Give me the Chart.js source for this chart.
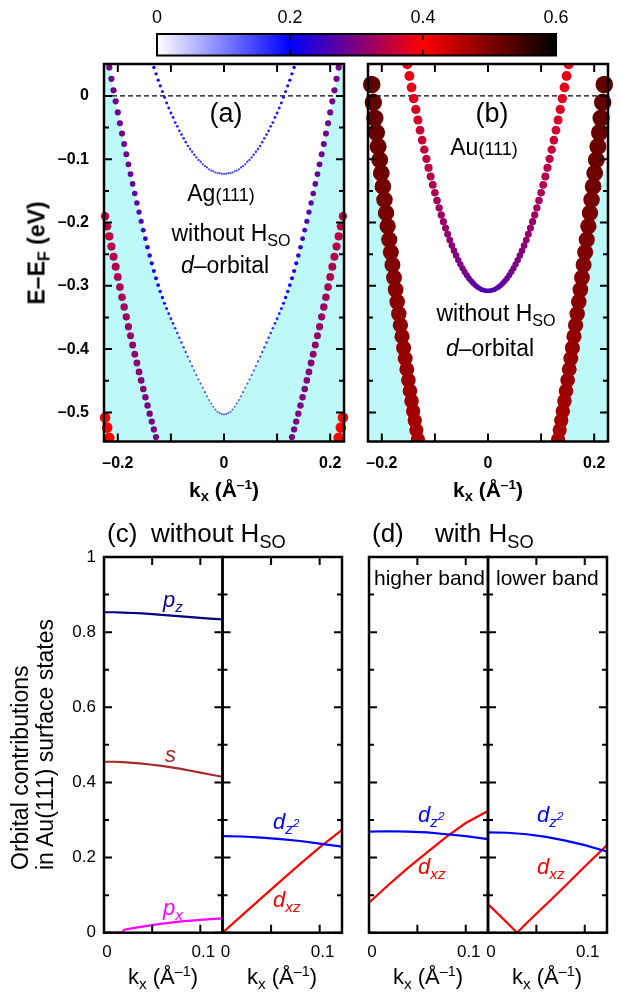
<!DOCTYPE html>
<html><head><meta charset="utf-8">
<script src="https://cdn.jsdelivr.net/npm/chart.js@4/dist/chart.umd.min.js"></script>
<style>
html,body{margin:0;padding:0;background:#fff;}
#wrap{position:relative;width:620px;height:994px;overflow:hidden;font-family:'Liberation Sans',Arial,sans-serif;color:#000;}
canvas{position:absolute;left:0;top:0;}
.t{position:absolute;white-space:nowrap;line-height:1;transform:translate(-50%,-50%);}
.l{position:absolute;white-space:nowrap;line-height:1;transform:translate(0,-50%);}
.r{transform:translate(-50%,-50%) rotate(-90deg);}
.sb{font-size:0.7em;vertical-align:-0.32em;line-height:0;}
.sp{font-size:0.65em;vertical-align:0.55em;line-height:0;}
.sp2{font-size:0.75em;vertical-align:0.6em;line-height:0;}
.b{font-weight:bold;}
i{font-style:italic;}
</style></head><body><div id="wrap">
<canvas id="cb" width="620" height="994"></canvas>
<canvas id="pa" width="620" height="994"></canvas>
<canvas id="pb" width="620" height="994"></canvas>
<canvas id="c1" width="620" height="994"></canvas>
<canvas id="c2" width="620" height="994"></canvas>
<canvas id="d1" width="620" height="994"></canvas>
<canvas id="d2" width="620" height="994"></canvas>

<div class="t" style="left:226px;top:113px;font-size:27px">(a)</div>
<div class="t" style="left:221px;top:193px;font-size:23px">Ag<span style="font-size:18px">(111)</span></div>
<div class="t" style="left:231px;top:233px;font-size:23px">without H<span class="sb">SO</span></div>
<div class="t" style="left:225px;top:265px;font-size:23px"><i>d</i>–orbital</div>

<div class="t" style="left:492px;top:113px;font-size:27px">(b)</div>
<div class="t" style="left:484px;top:147px;font-size:23px">Au<span style="font-size:18px">(111)</span></div>
<div class="t" style="left:496px;top:313px;font-size:23px">without H<span class="sb">SO</span></div>
<div class="t" style="left:490px;top:348px;font-size:23px"><i>d</i>–orbital</div>

<div class="t r b" style="left:37px;top:253px;font-size:23px">E–E<span class="sb">F</span> (eV)</div>
<div class="t b" style="left:224px;top:489px;font-size:21px">k<span class="sb">x</span> (Å<span class="sp">–1</span>)</div>
<div class="t b" style="left:488px;top:489px;font-size:21px">k<span class="sb">x</span> (Å<span class="sp">–1</span>)</div>

<div class="l" style="left:107px;top:533px;font-size:26px">(c)</div>
<div class="l" style="left:151px;top:533px;font-size:26px">without H<span class="sb">SO</span></div>
<div class="l" style="left:372px;top:533px;font-size:26px">(d)</div>
<div class="l" style="left:435px;top:533px;font-size:26px">with H<span class="sb">SO</span></div>
<div class="l" style="left:374px;top:577px;font-size:21px">higher band</div>
<div class="l" style="left:496px;top:577px;font-size:21px">lower band</div>

<div class="l" style="left:163px;top:600px;font-size:22px;color:#000080"><i>p<span class="sb">z</span></i></div>
<div class="l" style="left:165px;top:755px;font-size:22px;color:#a52a2a"><i>s</i></div>
<div class="l" style="left:163px;top:908px;font-size:22px;color:#ff00ff"><i>p<span class="sb">x</span></i></div>
<div class="l" style="left:273px;top:822px;font-size:22px;color:#0000ff"><i>d<span class="sb">z<span class="sp2">2</span></span></i></div>
<div class="l" style="left:273px;top:900px;font-size:22px;color:#ff0000"><i>d<span class="sb">xz</span></i></div>
<div class="l" style="left:418px;top:815px;font-size:22px;color:#0000ff"><i>d<span class="sb">z<span class="sp2">2</span></span></i></div>
<div class="l" style="left:418px;top:867px;font-size:22px;color:#ff0000"><i>d<span class="sb">xz</span></i></div>
<div class="l" style="left:537px;top:815px;font-size:22px;color:#0000ff"><i>d<span class="sb">z<span class="sp2">2</span></span></i></div>
<div class="l" style="left:537px;top:867px;font-size:22px;color:#ff0000"><i>d<span class="sb">xz</span></i></div>

<div style="position:absolute;left:7.5px;top:870px;transform:rotate(-90deg);transform-origin:0 0;font-size:23px;line-height:25px;white-space:nowrap">Orbital contributions<br>in Au(111) surface states</div>
<div class="t" style="left:163px;top:977px;font-size:22px">k<span class="sb">x</span> (Å<span class="sp">–1</span>)</div>
<div class="t" style="left:282px;top:977px;font-size:22px">k<span class="sb">x</span> (Å<span class="sp">–1</span>)</div>
<div class="t" style="left:428px;top:977px;font-size:22px">k<span class="sb">x</span> (Å<span class="sp">–1</span>)</div>
<div class="t" style="left:547px;top:977px;font-size:22px">k<span class="sb">x</span> (Å<span class="sp">–1</span>)</div>
</div>
<script>
// ---------------- DATA ----------------
// colour scale (orbital weight)
const cbTicks = [0, 0.2, 0.4, 0.6];
const cbColors = [[255,255,255],[0,0,255],[255,0,0],[0,0,0]];

// band-structure axes
const kRange = [-0.226, 0.226];
const eRange = [-0.546, 0.0505];
const kTicks = [-0.2, -0.1, 0, 0.1, 0.2];
const kTickLabels = [-0.2, 0, 0.2];
const eTickLabels = [-0.5, -0.4, -0.3, -0.2, -0.1, 0];
const eMinorTicks = [-0.45, -0.35, -0.25, -0.15, -0.05];
const fermiLevel = 0;

// (a) Ag(111): surface state (bands symmetric in kx, listed for kx >= 0)
const agSS_k = [0,0.004,0.008,0.012,0.016,0.020,0.024,0.028,0.032,0.036,0.040,0.044,0.048,0.052,0.056,0.060,0.064,0.068,0.072,0.076,0.080,0.084,0.088,0.092,0.096,0.100,0.104,0.108,0.112,0.116,0.120,0.124,0.128,0.132];
const agSS_E = [-0.123,-0.123,-0.122,-0.122,-0.121,-0.119,-0.118,-0.116,-0.113,-0.111,-0.108,-0.104,-0.101,-0.097,-0.093,-0.088,-0.084,-0.079,-0.073,-0.067,-0.061,-0.055,-0.048,-0.042,-0.034,-0.027,-0.019,-0.011,-0.002,0.007,0.016,0.025,0.035,0.045];
const agSS_w = [0.140,0.140,0.140,0.140,0.141,0.142,0.143,0.144,0.145,0.147,0.148,0.150,0.152,0.154,0.156,0.158,0.160,0.162,0.164,0.166,0.168,0.170,0.172,0.174,0.176,0.178,0.180,0.182,0.185,0.188,0.191,0.194,0.197,0.200];
// (a) Ag(111): lower band (edge of projected bulk bands)
const agLow_k = [0,0.004,0.008,0.012,0.016,0.020,0.024,0.028,0.032,0.036,0.040,0.044,0.048,0.052,0.056,0.060,0.064,0.068,0.072,0.076,0.080,0.084,0.088,0.092,0.096,0.100,0.104,0.108,0.112,0.116,0.120,0.124,0.128,0.132,0.136,0.140,0.144,0.148,0.152,0.156,0.160,0.164,0.168,0.172,0.176,0.180,0.184,0.188,0.192,0.196,0.200,0.204,0.208,0.212,0.216,0.220,0.224];
const agLow_E = [-0.503,-0.5025,-0.501,-0.499,-0.4955,-0.491,-0.486,-0.4805,-0.4745,-0.468,-0.461,-0.4545,-0.448,-0.441,-0.434,-0.427,-0.4195,-0.412,-0.4045,-0.397,-0.3895,-0.382,-0.3745,-0.367,-0.3595,-0.352,-0.344,-0.336,-0.3275,-0.3185,-0.309,-0.299,-0.288,-0.2765,-0.2645,-0.252,-0.239,-0.2255,-0.212,-0.198,-0.1835,-0.169,-0.154,-0.139,-0.1235,-0.108,-0.092,-0.076,-0.0595,-0.043,-0.026,-0.0085,0.009,0.027,0.045,0.0635,0.082];
const agLow_w = [0.130,0.130,0.130,0.131,0.131,0.132,0.132,0.133,0.134,0.135,0.136,0.137,0.138,0.139,0.140,0.142,0.144,0.147,0.150,0.153,0.156,0.159,0.162,0.166,0.170,0.174,0.179,0.184,0.190,0.196,0.203,0.210,0.218,0.226,0.234,0.241,0.247,0.253,0.258,0.263,0.267,0.271,0.275,0.278,0.281,0.284,0.286,0.288,0.290,0.291,0.292,0.293,0.294,0.295,0.296,0.296,0.297];
// (a) Ag(111): d-like band
const agD_k = [0.224,0.220,0.216,0.212,0.208,0.204,0.200,0.196,0.192,0.188,0.184,0.180,0.176,0.172,0.168,0.164,0.160,0.156,0.152,0.148,0.144,0.140,0.136,0.132,0.128,0.124];
const agD_E = [-0.190,-0.206,-0.222,-0.238,-0.254,-0.270,-0.286,-0.302,-0.318,-0.3335,-0.349,-0.3645,-0.379,-0.3935,-0.408,-0.422,-0.436,-0.4495,-0.463,-0.476,-0.489,-0.502,-0.5145,-0.527,-0.539,-0.551];
const agD_w = [0.350,0.349,0.347,0.345,0.343,0.340,0.337,0.334,0.331,0.328,0.325,0.322,0.319,0.316,0.313,0.311,0.309,0.307,0.305,0.303,0.301,0.299,0.298,0.297,0.296,0.295];
// (a) Ag(111): band entering at the bottom corners
const agR_k = [0.224,0.220,0.216,0.212];
const agR_E = [-0.508,-0.524,-0.540,-0.556];
const agR_w = [0.400,0.400,0.400,0.400];

// (b) Au(111): surface state
const auSS_k = [0,0.004,0.008,0.012,0.016,0.020,0.024,0.028,0.032,0.036,0.040,0.044,0.048,0.052,0.056,0.060,0.064,0.068,0.072,0.076,0.080,0.084,0.088,0.092,0.096,0.100,0.104,0.108,0.112,0.116,0.120,0.124,0.128,0.132,0.136,0.140,0.144,0.148,0.152];
const auSS_E = [-0.308,-0.3078,-0.307,-0.3058,-0.304,-0.3018,-0.2991,-0.2958,-0.2921,-0.2879,-0.2832,-0.278,-0.2723,-0.2661,-0.2594,-0.2522,-0.2445,-0.2363,-0.2277,-0.2185,-0.2088,-0.1986,-0.188,-0.1768,-0.1652,-0.153,-0.1404,-0.1272,-0.1136,-0.0994,-0.0848,-0.0697,-0.054,-0.0379,-0.0213,-0.0042,0.0134,0.0315,0.0501];
const auSS_w = [0.255,0.256,0.258,0.261,0.264,0.268,0.272,0.276,0.280,0.284,0.288,0.291,0.294,0.297,0.300,0.303,0.306,0.309,0.312,0.315,0.318,0.321,0.324,0.327,0.330,0.333,0.337,0.341,0.345,0.349,0.353,0.357,0.361,0.366,0.371,0.376,0.381,0.386,0.390];
// (b) Au(111): d-like band
const auD_k = [0.219,0.216,0.213,0.210,0.207,0.204,0.201,0.198,0.195,0.192,0.189,0.186,0.183,0.180,0.177,0.174,0.171,0.168,0.165,0.162,0.159,0.156,0.153,0.150,0.147,0.144,0.141,0.138,0.135,0.132,0.129];
const auD_E = [0.018,-0.010,-0.035,-0.058,-0.080,-0.101,-0.122,-0.143,-0.164,-0.185,-0.206,-0.227,-0.247,-0.267,-0.287,-0.306,-0.325,-0.344,-0.362,-0.380,-0.398,-0.415,-0.432,-0.449,-0.466,-0.482,-0.498,-0.513,-0.528,-0.543,-0.558];
const auD_w = [0.525,0.523,0.521,0.519,0.517,0.515,0.513,0.511,0.509,0.507,0.505,0.503,0.501,0.499,0.497,0.495,0.493,0.491,0.489,0.487,0.485,0.483,0.481,0.479,0.477,0.475,0.473,0.471,0.469,0.467,0.465];
// (b) projected bulk-band edge (cyan region lies below)
const auEdge_k = [0.130,0.145,0.158,0.170,0.178,0.187,0.196,0.206,0.216,0.226,0.236];
const auEdge_E = [-0.620,-0.546,-0.480,-0.415,-0.330,-0.243,-0.205,-0.170,-0.135,-0.100,-0.065];

// orbital-contribution panels
const ocRange = [0, 1];
const ocTickLabels = [0, 0.2, 0.4, 0.6, 0.8, 1];
const ocMinorTicks = [0.1, 0.3, 0.5, 0.7, 0.9];
const kSmallRange = [0, 0.123];
const kSmallLabels = [0, 0.1];
const kSmallTicks = [0.05, 0.1];
// (c) without H_SO, left: p orbitals and s
const c1_k  = [0,0.01,0.02,0.03,0.04,0.05,0.06,0.07,0.08,0.09,0.10,0.11,0.123];
const c1_pz = [0.853,0.853,0.852,0.851,0.850,0.848,0.846,0.844,0.842,0.840,0.838,0.836,0.834];
const c1_s  = [0.455,0.455,0.454,0.452,0.450,0.447,0.444,0.440,0.436,0.431,0.426,0.421,0.415];
const c1_px_k = [0,0.010,0.019,0.021,0.03,0.04,0.05,0.06,0.07,0.08,0.09,0.10,0.11,0.123];
const c1_px   = [0.0,0.0,0.001,0.008,0.012,0.016,0.020,0.024,0.027,0.030,0.032,0.034,0.036,0.038];
// (c) without H_SO, right: d orbitals
const c2_k   = [0,0.02,0.04,0.06,0.08,0.10,0.123];
const c2_dz2 = [0.257,0.256,0.253,0.249,0.244,0.237,0.229];
const c2_dxz = [0.0,0.046,0.092,0.138,0.183,0.227,0.274];
// (d) with H_SO, higher band
const d1_k   = [0,0.02,0.04,0.06,0.08,0.10,0.123];
const d1_dz2 = [0.269,0.270,0.269,0.267,0.262,0.257,0.249];
const d1_dxz = [0.080,0.127,0.172,0.214,0.255,0.292,0.324];
// (d) with H_SO, lower band
const d2_k   = [0,0.02,0.04,0.06,0.08,0.10,0.123];
const d2_dz2 = [0.267,0.266,0.262,0.255,0.245,0.233,0.216];
const d2_xk  = [0,0.01,0.02,0.03,0.04,0.06,0.08,0.10,0.123];
const d2_dxz = [0.076,0.051,0.026,0.0,0.026,0.075,0.125,0.176,0.233];

// ---------------- HELPERS ----------------
Chart.defaults.font.family = "'Liberation Sans', Arial, sans-serif";
Chart.defaults.color = '#000';

function cmap(v) {
  let i = 0;
  while (i < cbTicks.length - 2 && v > cbTicks[i + 1]) i++;
  let t = (v - cbTicks[i]) / (cbTicks[i + 1] - cbTicks[i]);
  t = Math.max(0, Math.min(1, t));
  const a = cbColors[i], b = cbColors[i + 1];
  const c = a.map((x, j) => Math.round(x + (b[j] - x) * t));
  return 'rgb(' + c.join(',') + ')';
}
function dotRadius(v) { return 0.5 + 30 * v * v; }

const frames = {};
const framePlugin = {
  id: 'frameTicks',
  afterDatasetsDraw(chart) {
    const o = frames[chart.canvas.id];
    if (!o) return;
    const ctx = chart.ctx, a = chart.chartArea, sx = chart.scales.x, sy = chart.scales.y;
    ctx.save();
    ctx.strokeStyle = '#000';
    ctx.lineWidth = o.tw;
    ctx.beginPath();
    const tx = (vals, len) => vals.forEach(v => { const p = sx.getPixelForValue(v);
      ctx.moveTo(p, a.bottom); ctx.lineTo(p, a.bottom - len); ctx.moveTo(p, a.top); ctx.lineTo(p, a.top + len); });
    const ty = (vals, len) => vals.forEach(v => { const p = sy.getPixelForValue(v);
      ctx.moveTo(a.left, p); ctx.lineTo(a.left + len, p); ctx.moveTo(a.right, p); ctx.lineTo(a.right - len, p); });
    tx(o.xMajor || [], o.major); tx(o.xMinor || [], o.minor);
    ty(o.yMajor || [], o.major); ty(o.yMinor || [], o.minor);
    ctx.stroke();
    ctx.lineWidth = o.fw;
    ctx.strokeRect(a.left, a.top, a.right - a.left, a.bottom - a.top);
    ctx.restore();
  }
};

const cbarPlugin = {
  id: 'cbar',
  beforeDatasetsDraw(chart) {
    const ctx = chart.ctx, a = chart.chartArea, sx = chart.scales.x;
    const x0 = sx.getPixelForValue(cbTicks[0]), x1 = sx.getPixelForValue(cbTicks[cbTicks.length - 1]);
    const g = ctx.createLinearGradient(x0, 0, x1, 0);
    cbTicks.forEach((v, i) => g.addColorStop((v - cbTicks[0]) / (cbTicks[cbTicks.length - 1] - cbTicks[0]), cmap(v)));
    ctx.save(); ctx.fillStyle = g; ctx.fillRect(a.left, a.top, a.right - a.left, a.bottom - a.top); ctx.restore();
  }
};

function fmtE(v) { return Math.abs(v) < 1e-9 ? '0' : (v < 0 ? '\u2013' : '') + Math.abs(v).toFixed(1); }
function fmtP(v) { return (Math.abs(v) < 1e-9) ? '0' : (Math.abs(v - 1) < 1e-9 ? '1' : v.toFixed(1)); }

function makeChart(id, area, o) {
  const W = o.W, H = o.H, top = o.xPos === 'top';
  const padding = { left: area.l - W, right: 620 - area.r,
    top: top ? area.t - H : area.t, bottom: top ? 994 - area.b : 994 - area.b - H };
  frames[id] = o.frame;
  return new Chart(document.getElementById(id), {
    type: 'scatter',
    data: { datasets: o.datasets },
    options: {
      responsive: false, animation: false, devicePixelRatio: 1,
      layout: { padding },
      events: [],
      plugins: { legend: { display: false }, tooltip: { enabled: false } },
      scales: {
        x: { type: 'linear', position: o.xPos || 'bottom', min: o.xr[0], max: o.xr[1],
          grid: { display: false, drawTicks: false }, border: { display: false },
          ticks: { display: o.xShow, font: o.xFont, padding: o.xPad, callback: o.xFmt, maxRotation: 0, autoSkip: false, labelOffset: o.xOff || 0 },
          afterBuildTicks: s => { s.ticks = o.xLabels.map(v => ({ value: v })); },
          afterFit: s => { s.height = H; s.paddingLeft = 0; s.paddingRight = 0; s.paddingTop = 0; s.paddingBottom = 0; } },
        y: { type: 'linear', position: 'left', min: o.yr[0], max: o.yr[1],
          grid: { display: false, drawTicks: false }, border: { display: false },
          ticks: { display: o.yShow, font: o.yFont, padding: o.yPad, callback: o.yFmt, autoSkip: false },
          afterBuildTicks: s => { s.ticks = o.yLabels.map(v => ({ value: v })); },
          afterFit: s => { s.width = W; s.paddingLeft = 0; s.paddingRight = 0; s.paddingTop = 0; s.paddingBottom = 0; } }
      }
    },
    plugins: o.extra ? [framePlugin, o.extra] : [framePlugin]
  });
}

function dots(ks, Es, ws, order) {
  const pts = [], w = [];
  ks.forEach((k, i) => {
    pts.push({ x: -k, y: Es[i] }); w.push(ws[i]);
    if (k !== 0) { pts.push({ x: k, y: Es[i] }); w.push(ws[i]); }
  });
  return { data: pts, order, showLine: false,
    pointRadius: c => dotRadius(w[c.dataIndex]),
    pointBackgroundColor: c => cmap(w[c.dataIndex]),
    pointBorderWidth: 0, pointHoverRadius: 0,
    clip: { left: 14, right: 14, top: 0, bottom: 0 } };
}
function fillBelow(ks, Es, side, order) {
  let pts = ks.map((k, i) => ({ x: side * k, y: Es[i] }));
  pts.sort((p, q) => p.x - q.x);
  return { data: pts, order, showLine: true, fill: 'start', backgroundColor: '#bdf9f9',
    borderWidth: 0, borderColor: 'rgba(0,0,0,0)', pointRadius: 0 };
}
function fillSym(ks, Es, order) {
  const pts = [];
  ks.forEach((k, i) => { pts.push({ x: -k, y: Es[i] }); if (k !== 0) pts.push({ x: k, y: Es[i] }); });
  pts.sort((p, q) => p.x - q.x);
  return { data: pts, order, showLine: true, fill: 'start', backgroundColor: '#bdf9f9',
    borderWidth: 0, borderColor: 'rgba(0,0,0,0)', pointRadius: 0 };
}
function fermiLine(order) {
  return { data: [{ x: kRange[0], y: fermiLevel }, { x: kRange[1], y: fermiLevel }], order, showLine: true,
    borderColor: '#000', borderWidth: 1.2, borderDash: [5, 3], pointRadius: 0, fill: false };
}
function curve(ks, vs, color) {
  return { data: ks.map((k, i) => ({ x: k, y: vs[i] })), showLine: true, borderColor: color,
    borderWidth: 2.2, pointRadius: 0, fill: false, tension: 0 };
}

// ---------------- CHARTS ----------------
const bold16 = { size: 16, weight: 'bold' };
const reg17 = { size: 17 };

makeChart('cb', { l: 157, r: 556, t: 34, b: 55.5 }, {
  W: 40, H: 30, xPos: 'top', xr: [cbTicks[0], cbTicks[3]], yr: [0, 1],
  xLabels: cbTicks, xShow: true, xFont: { size: 18 }, xPad: 5, xFmt: v => fmtP(v),
  yLabels: [0], yShow: false,
  datasets: [{ data: [] }],
  frame: { xMajor: [cbTicks[1], cbTicks[2]], major: 6, minor: 0, tw: 2, fw: 2 },
  extra: cbarPlugin
});

const topOpts = (showY) => ({
  W: 80, H: 40, xr: kRange, yr: eRange,
  xLabels: kTickLabels, xShow: true, xFont: bold16, xPad: 12, xFmt: v => fmtE(v),
  yLabels: eTickLabels, yShow: showY, yFont: bold16, yPad: 15, yFmt: v => fmtE(v),
  frame: { xMajor: kTicks, yMajor: eTickLabels, yMinor: eMinorTicks, major: 8, minor: 5, tw: 2, fw: 2.5 }
});

makeChart('pa', { l: 104, r: 344, t: 64, b: 441.5 }, Object.assign(topOpts(true), {
  datasets: [
    fillSym(agLow_k, agLow_E, 10),
    fermiLine(9),
    dots(agLow_k, agLow_E, agLow_w, 4),
    dots(agSS_k, agSS_E, agSS_w, 3),
    dots(agD_k, agD_E, agD_w, 2),
    dots(agR_k, agR_E, agR_w, 1)
  ]
}));

makeChart('pb', { l: 368, r: 608, t: 64, b: 441.5 }, Object.assign(topOpts(false), {
  datasets: [
    fillBelow(auEdge_k, auEdge_E, -1, 10),
    fillBelow(auEdge_k, auEdge_E, 1, 10),
    fermiLine(9),
    dots(auSS_k, auSS_E, auSS_w, 3),
    dots(auD_k, auD_E, auD_w, 2)
  ]
}));

const botOpts = (showY) => ({
  W: 40, H: 40, xr: kSmallRange, yr: ocRange,
  xLabels: kSmallLabels, xShow: true, xFont: reg17, xPad: 9, xOff: 3, xFmt: v => fmtP(v),
  yLabels: ocTickLabels, yShow: showY, yFont: reg17, yPad: 8, yFmt: v => fmtP(v),
  frame: { xMajor: kSmallTicks, yMajor: ocTickLabels, yMinor: ocMinorTicks, major: 8, minor: 5, tw: 2, fw: 2.5 }
});

makeChart('c1', { l: 104, r: 222.5, t: 557, b: 932.7 }, Object.assign(botOpts(true), {
  datasets: [ curve(c1_k, c1_pz, '#000080'), curve(c1_k, c1_s, '#a52a2a'), curve(c1_px_k, c1_px, '#ff00ff') ]
}));
makeChart('c2', { l: 222.5, r: 342, t: 557, b: 932.7 }, Object.assign(botOpts(false), {
  datasets: [ curve(c2_k, c2_dz2, '#0000ff'), curve(c2_k, c2_dxz, '#ff0000') ]
}));
makeChart('d1', { l: 369, r: 488, t: 557, b: 932.7 }, Object.assign(botOpts(false), {
  datasets: [ curve(d1_k, d1_dz2, '#0000ff'), curve(d1_k, d1_dxz, '#ff0000') ]
}));
makeChart('d2', { l: 488, r: 607, t: 557, b: 932.7 }, Object.assign(botOpts(false), {
  datasets: [ curve(d2_k, d2_dz2, '#0000ff'), curve(d2_xk, d2_dxz, '#ff0000') ]
}));
</script>
</body></html>
